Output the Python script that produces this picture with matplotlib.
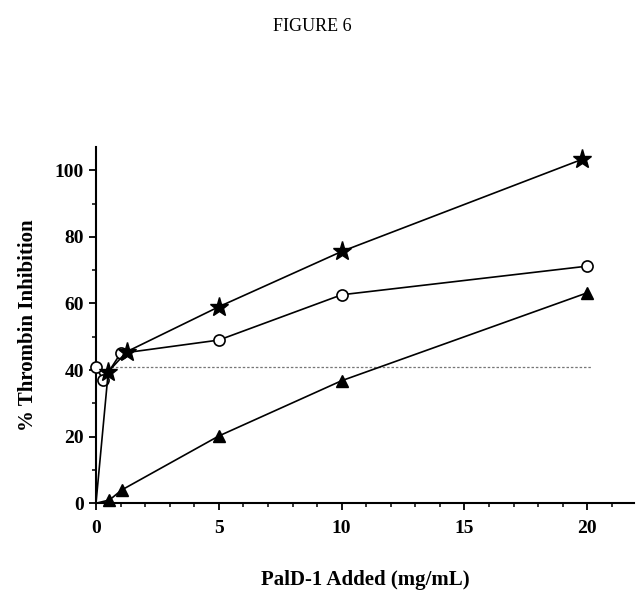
import numpy as np
import matplotlib
matplotlib.use('Agg')
import matplotlib.pyplot as plt
from matplotlib.ticker import MultipleLocator

# values
star_x = [0, 0.5, 1.25, 5, 10, 19.8]
star_y = [0, 39.5, 45.5, 59, 75.6, 103.3]

circle_x = [0, 0.3, 1, 5, 10, 20]
circle_y = [40.8, 37, 45, 49, 62.6, 71.2]

tri_x = [0, 0.55, 1.05, 5, 10, 20]
tri_y = [0, 1, 4, 20.2, 36.8, 63.2]

ref_x = [0.6, 20.2]
ref_y = [40.8, 40.8]

plt.rcParams['font.family'] = ['Liberation Serif', 'DejaVu Serif']

fig = plt.figure(figsize=(6.42, 5.9), dpi=100)
ax = fig.add_axes([0.1495, 0.147, 0.838, 0.604])

ax.plot(ref_x, ref_y, linestyle=(0, (2, 1.5)), color='#777777', lw=0.9)

ax.plot(circle_x, circle_y, color='black', lw=1.2, marker='o', ms=8,
        mfc='white', mec='black', mew=1.2, clip_on=False, zorder=3)
# the (0, 0) start points carry no marker in the original
ax.plot(tri_x, tri_y, color='black', lw=1.2, marker='^', ms=9,
        mfc='black', mec='black', markevery=list(range(1, len(tri_x))),
        clip_on=False, zorder=3)
ax.plot(star_x, star_y, color='black', lw=1.2, marker='*', ms=14,
        mfc='black', mec='black', markevery=list(range(1, len(star_x))),
        clip_on=False, zorder=4)

ax.set_xlim(0, 21.9)
ax.set_ylim(0, 107)
ax.xaxis.set_major_locator(MultipleLocator(5))
ax.xaxis.set_minor_locator(MultipleLocator(1))
ax.yaxis.set_major_locator(MultipleLocator(20))
ax.yaxis.set_minor_locator(MultipleLocator(10))

for s in ['top', 'right']:
    ax.spines[s].set_visible(False)
for s in ['left', 'bottom']:
    ax.spines[s].set_linewidth(1.5)

ax.tick_params(which='major', direction='out', length=5, width=1.3,
               labelsize=14)
ax.tick_params(axis='x', which='major', pad=7)
ax.tick_params(which='minor', direction='out', length=3, width=1.1)
for lbl in ax.get_xticklabels() + ax.get_yticklabels():
    lbl.set_fontweight('bold')

ax.set_ylabel('% Thrombin Inhibition', fontsize=15, fontweight='bold',
              labelpad=12)
ax.set_xlabel('PalD-1 Added (mg/mL)', fontsize=15, fontweight='bold',
              labelpad=24)

fig.text(0.486, 0.955, 'FIGURE 6', ha='center', va='center', fontsize=13)

fig.savefig('out.png', dpi=100)
